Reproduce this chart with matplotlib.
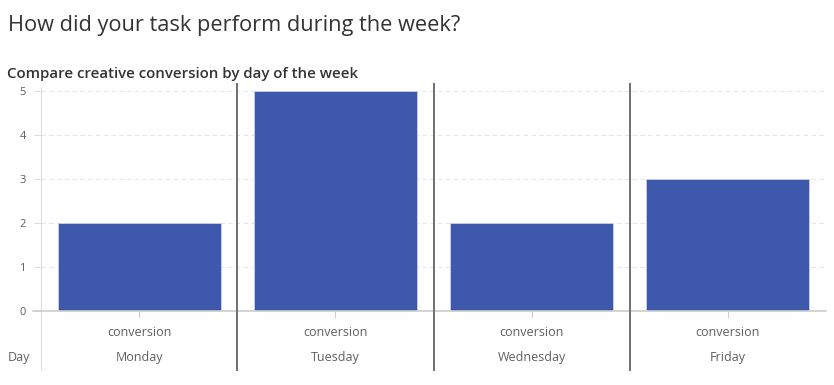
import matplotlib
matplotlib.use("Agg")
import matplotlib.pyplot as plt
from matplotlib.lines import Line2D

# --- Data ---
days = ["Monday", "Tuesday", "Wednesday", "Friday"]
measure = "conversion"
values = [2, 5, 2, 3]
y_ticks = [0, 1, 2, 3, 4, 5]

BAR_COLOR = "#3e58ac"
TEXT_GRAY = "#5f5f5f"

plt.rcParams["font.family"] = ["Open Sans", "DejaVu Sans"]

fig = plt.figure(figsize=(8.34, 3.85), dpi=100)
W, H = 834, 385

# axes box in pixels: x 41..826, y 88..311
ax = fig.add_axes([41 / W, (H - 311) / H, (826 - 41) / W, (311 - 88) / H])

centers = [i + 0.5 for i in range(len(days))]
ax.bar(centers, values, width=0.83, color=BAR_COLOR,
       edgecolor="#c8d0ea", linewidth=0.6, zorder=3)

ax.set_xlim(0, len(days))
ax.set_ylim(0, 5.07)
ax.set_yticks(y_ticks)
ax.set_yticklabels([str(t) for t in y_ticks])
ax.tick_params(axis="y", length=5, color="#dddddd", labelsize=8,
               labelcolor=TEXT_GRAY, pad=6)
ax.set_xticks(centers)
ax.set_xticklabels([])
ax.tick_params(axis="x", length=5, color="#cccccc", width=0.8)

for t in y_ticks[1:]:
    ax.axhline(t, color="#e6e6e6", linestyle=(0, (4, 3)), linewidth=0.8, zorder=1)

for side in ["top", "right"]:
    ax.spines[side].set_visible(False)
ax.spines["left"].set_color("#dddddd")
ax.spines["bottom"].set_color("#cccccc")
ax.spines["bottom"].set_linewidth(1.2)
ax.spines["bottom"].set_zorder(4)

# extend left axis line and baseline beyond plot area
fig.add_artist(Line2D([41 / W, 41 / W], [(H - 370) / H, (H - 311) / H],
                      color="#dddddd", linewidth=0.8))
fig.add_artist(Line2D([33 / W, 41 / W], [(H - 311) / H] * 2,
                      color="#cccccc", linewidth=1.2))

# panel separators
for i in range(1, len(days)):
    x = ax.transData.transform((i, 0))[0] / W
    fig.add_artist(Line2D([x, x], [(H - 370) / H, (H - 84) / H],
                          color="#6f6f6f", linewidth=1.4))

# category labels
for c, d in zip(centers, days):
    xf = ax.transData.transform((c, 0))[0] / W
    fig.text(xf, (H - 332) / H, measure, ha="center", va="center",
             fontsize=9, color=TEXT_GRAY)
    fig.text(xf, (H - 358) / H, d, ha="center", va="center",
             fontsize=9, color=TEXT_GRAY)
fig.text(8 / W, (H - 358) / H, "Day", ha="left", va="center",
         fontsize=9, color=TEXT_GRAY)

fig.text(8 / W, (H - 26) / H, "How did your task perform during the week?",
         ha="left", va="center", fontsize=15.7, color="#333333")
fig.text(7 / W, (H - 74) / H, "Compare creative conversion by day of the week",
         ha="left", va="center", fontsize=10.8, color="#333333", weight="semibold")

fig.savefig("out.png", dpi=100)
